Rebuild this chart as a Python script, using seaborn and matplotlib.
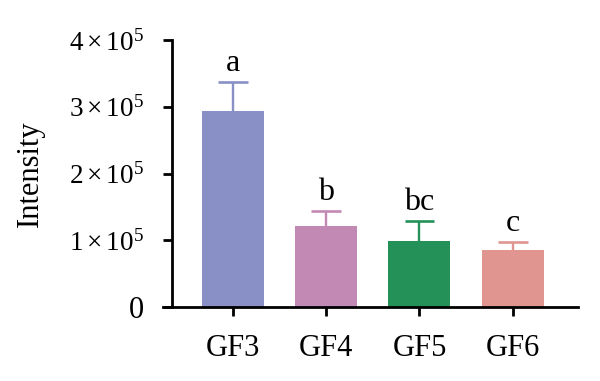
import matplotlib
matplotlib.use("Agg")
import matplotlib.pyplot as plt
import seaborn as sns
import numpy as np
import pandas as pd
from matplotlib.ticker import FixedLocator

# ---- data ----
groups = ["GF3", "GF4", "GF5", "GF6"]
means = [2.93e5, 1.22e5, 0.99e5, 0.86e5]
sds = [0.445e5, 0.22e5, 0.30e5, 0.11e5]
letters = ["a", "b", "bc", "c"]
colors = ["#8890C6", "#C389B5", "#239158", "#E09590"]
yticks = [0, 1e5, 2e5, 3e5, 4e5]
ytick_labels = ["0", r"$1\times10^5$", r"$2\times10^5$", r"$3\times10^5$", r"$4\times10^5$"]

sns.set_theme(style="ticks")
plt.rcParams["font.family"] = ["Liberation Serif", "DejaVu Serif"]
plt.rcParams["mathtext.fontset"] = "custom"
plt.rcParams["mathtext.rm"] = "Liberation Serif"
plt.rcParams["mathtext.it"] = "Liberation Serif:italic"
plt.rcParams["mathtext.bf"] = "Liberation Serif:bold"

df = pd.DataFrame({"group": groups, "value": means})

fig = plt.figure(figsize=(6.0, 3.81), dpi=100)
ax = fig.add_axes([163 / 600, 1 - 307 / 381, 415 / 600, 267 / 381])

sns.barplot(data=df, x="group", y="value", hue="group", palette=colors,
            legend=False, errorbar=None, width=0.665, saturation=1,
            linewidth=0, ax=ax, zorder=2)

cap_half = 0.16
for i, (m, s, c) in enumerate(zip(means, sds, colors)):
    ax.vlines(i, m, m + s, colors=c, linewidth=1.7, zorder=1)
    ax.hlines(m + s, i - cap_half, i + cap_half, colors=c, linewidth=1.9, zorder=1)
    ax.annotate(letters[i], xy=(i, m + s), xytext=(0, 8), textcoords="offset points",
                ha="center", va="baseline", fontsize=23, color="black",
                annotation_clip=False)

ax.set_xlim(-0.75, 3.70)
ax.set_ylim(0, 4e5)

sns.despine(ax=ax)
ax.spines["left"].set_position(("axes", 9 / 415))
for sp in ("left", "bottom"):
    ax.spines[sp].set_linewidth(2.0)
    ax.spines[sp].set_color("black")

ax.tick_params(axis="both", direction="out", length=6.5, width=2.0, color="black",
               labelcolor="black")
ax.tick_params(axis="y", pad=14, labelsize=19.5)
ax.tick_params(axis="x", labelsize=22, pad=13)

ax.yaxis.set_major_locator(FixedLocator(yticks))
ax.set_yticklabels(ytick_labels)
ylabs = ax.get_yticklabels()
ylabs[0].set_fontsize(22)

ax.set_xlabel("")
ax.set_ylabel("Intensity", fontsize=22, labelpad=17, color="black")

fig.savefig("out.png", dpi=100)
